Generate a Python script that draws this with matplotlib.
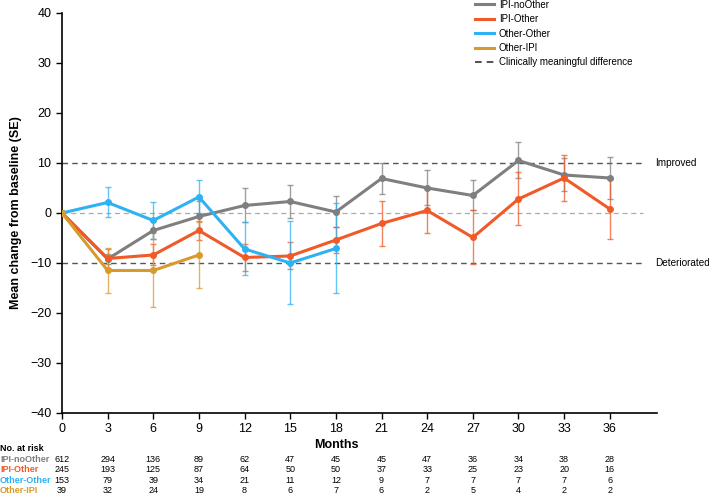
import matplotlib
matplotlib.use("Agg")
import matplotlib.pyplot as plt
import matplotlib.transforms as mtransforms
from matplotlib.lines import Line2D
import numpy as np

plt.rcParams['font.family'] = ['Liberation Sans', 'DejaVu Sans']

months_all = [0, 3, 6, 9, 12, 15, 18, 21, 24, 27, 30, 33, 36]

series_names = ["IPI-noOther", "IPI-Other", "Other-Other", "Other-IPI"]
colors = ["#7f7f7f", "#f05a28", "#2eb2f4", "#d89a2c"]

ipi_no_other_mean = [0, -9.2, -3.5, -0.7, 1.5, 2.3, 0.2, 6.9, 5.0, 3.5, 10.5, 7.6, 7.0]
ipi_no_other_se = [0, 1.0, 1.8, 3.0, 3.4, 3.3, 3.1, 3.1, 3.5, 3.0, 3.6, 3.3, 4.2]
ipi_other_mean = [0, -9.1, -8.4, -3.5, -8.9, -8.6, -5.4, -2.1, 0.5, -4.9, 2.8, 7.0, 0.8]
ipi_other_se = [0, 1.9, 2.1, 1.9, 2.7, 2.7, 2.6, 4.5, 4.6, 5.4, 5.3, 4.6, 6.0]
other_other_mean = [0, 2.1, -1.5, 3.2, -7.2, -10.0, -7.1]
other_other_se = [0, 3.0, 3.7, 3.3, 5.3, 8.3, 9.0]
other_ipi_mean = [0, -11.5, -11.5, -8.4]
other_ipi_se = [0, 4.5, 7.4, 6.6]

means = [ipi_no_other_mean, ipi_other_mean, other_other_mean, other_ipi_mean]
ses = [ipi_no_other_se, ipi_other_se, other_other_se, other_ipi_se]

at_risk = {
    "IPI-noOther": [612, 294, 136, 89, 62, 47, 45, 45, 47, 36, 34, 38, 28],
    "IPI-Other": [245, 193, 125, 87, 64, 50, 50, 37, 33, 25, 23, 20, 16],
    "Other-Other": [153, 79, 39, 34, 21, 11, 12, 9, 7, 7, 7, 7, 6],
    "Other-IPI": [39, 32, 24, 19, 8, 6, 7, 6, 2, 5, 4, 2, 2],
}

fig = plt.figure(figsize=(7.09, 4.94), dpi=100)
ax = fig.add_axes([0.0874, 0.164, 0.8392, 0.8097])

# reference lines
ax.hlines([10, -10], 0, 38.2, color="#555555", ls=(0, (4, 3)), lw=1.0, zorder=1)
ax.hlines([0], 0, 38.2, color="#aaaaaa", ls=(0, (4, 3)), lw=0.9, zorder=1)

for name, m, s, c in zip(series_names, means, ses, colors):
    x = months_all[:len(m)]
    xe = x[1:]
    ax.errorbar(xe, m[1:], yerr=s[1:], fmt="none", ecolor=c, alpha=0.75,
                elinewidth=1.0, capsize=2.5, capthick=1.0, zorder=2)
    ax.plot(x, m, color=c, lw=2.2, marker="o", ms=4, zorder=3)

ax.set_xlim(0, 39.1)
ax.set_ylim(-40, 40)
ax.set_xticks(months_all)
ax.set_yticks([-40, -30, -20, -10, 0, 10, 20, 30, 40])
ax.set_yticklabels(["\u221240", "\u221230", "\u221220", "\u221210", "0", "10", "20", "30", "40"])
ax.tick_params(axis="both", labelsize=9, direction="out", length=4, width=1)
ax.spines["top"].set_visible(False)
ax.spines["right"].set_visible(False)
ax.spines["left"].set_linewidth(1.2)
ax.spines["bottom"].set_linewidth(1.2)
ax.set_ylabel("Mean change from baseline (SE)", fontsize=9, fontweight="bold", labelpad=6)
ax.set_xlabel("Months", fontsize=9, fontweight="bold", labelpad=2)
ax.xaxis.set_label_coords(18 / 39.1, -0.065)

ax.text(38.95, 10, "Improved", transform=ax.transData, fontsize=7.2,
        va="center", ha="left", clip_on=False)
ax.text(38.95, -10, "Deteriorated", transform=ax.transData, fontsize=7.2,
        va="center", ha="left", clip_on=False)

handles = [Line2D([0], [0], color=c, lw=2.2) for c in colors]
handles.append(Line2D([0], [0], color="#333333", lw=1.2, ls=(0, (4, 3))))
labels = series_names + ["Clinically meaningful difference"]
leg = fig.legend(handles, labels, loc="upper left", bbox_to_anchor=(0.657, 1.018),
                 frameon=False, fontsize=7, handlelength=2.0, labelspacing=0.45,
                 handletextpad=0.5)

# at-risk table
trans = mtransforms.blended_transform_factory(ax.transData, fig.transFigure)
fig.text(0.0, 1 - 448.5 / 494, "No. at risk", fontsize=6.5, fontweight="bold",
         va="center", ha="left")
row_y = [459, 469.7, 480.3, 490.5]
for (name, vals), c, yy in zip(at_risk.items(), colors, row_y):
    yf = 1 - yy / 494
    fig.text(0.0, yf, name, color=c, fontsize=6.5, fontweight="bold", va="center", ha="left")
    for mo, v in zip(months_all, vals):
        ax.text(mo, yf, str(v), transform=trans, fontsize=6.5, ha="center", va="center",
                clip_on=False)

fig.savefig("out.png", dpi=100)
